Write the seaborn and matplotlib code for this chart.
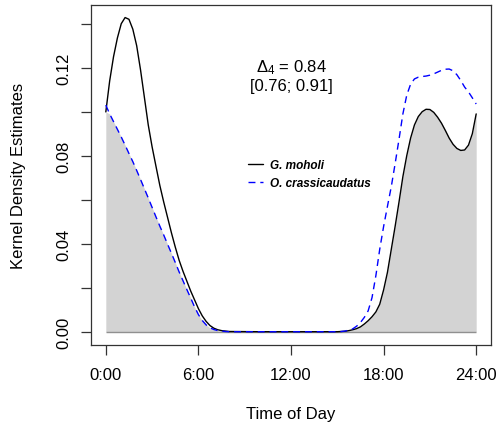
import numpy as np
import pandas as pd
import matplotlib
matplotlib.use("Agg")
import matplotlib.pyplot as plt
import seaborn as sns

# ---- data ----
hours = [0, 0.25, 0.5, 0.75, 1.0, 1.25, 1.5, 1.75, 2.0, 2.25, 2.5, 2.75, 3.0, 3.25, 3.5,
         3.75, 4.0, 4.25, 4.5, 4.75, 5.0, 5.25, 5.5, 5.75, 6.0, 6.25, 6.5, 6.75, 7.0, 7.25,
         7.5, 7.75, 8.0, 10, 12, 14,
         15.0, 15.25, 15.5, 15.75, 16.0, 16.25, 16.5, 16.75, 17.0, 17.25, 17.5, 17.75,
         18.0, 18.25, 18.5, 18.75, 19.0, 19.25, 19.5, 19.75, 20.0, 20.25, 20.5, 20.75,
         21.0, 21.25, 21.5, 21.75, 22.0, 22.25, 22.5, 22.75, 23.0, 23.25, 23.5, 23.75, 24.0]
g_moholi = [0.0999, 0.114, 0.125, 0.1335, 0.1400, 0.1428, 0.1420, 0.1375, 0.1300, 0.1190,
            0.1065, 0.0940, 0.0840, 0.0752, 0.0665, 0.059, 0.052, 0.045, 0.0385, 0.0325,
            0.0275, 0.023, 0.0185, 0.0145, 0.0105, 0.0072, 0.0047, 0.0028, 0.0016, 0.0009,
            0.0005, 0.0003, 0.0001, 0.0, 0.0, 0.0,
            0.0, 0.0001, 0.0002, 0.0005, 0.0009, 0.0014, 0.0022, 0.0035, 0.005, 0.0068,
            0.009, 0.0125, 0.019, 0.027, 0.0375, 0.048, 0.059, 0.0705, 0.0800, 0.088,
            0.094, 0.0978, 0.1, 0.1011, 0.101, 0.0997, 0.0975, 0.0948, 0.0915, 0.088,
            0.0852, 0.0833, 0.0824, 0.0826, 0.0848, 0.09, 0.099]
o_crass = [0.103, 0.099, 0.0955, 0.092, 0.0885, 0.0848, 0.081, 0.0773, 0.0733, 0.0692,
           0.065, 0.0608, 0.0565, 0.0522, 0.048, 0.044, 0.0398, 0.0357, 0.0315, 0.0272,
           0.0232, 0.0192, 0.0153, 0.0113, 0.0078, 0.0051, 0.0031, 0.0018, 0.001, 0.0005,
           0.0003, 0.0001, 0.0, 0.0, 0.0, 0.0,
           0.0, 0.0001, 0.0003, 0.0007, 0.0013, 0.0025, 0.0042, 0.0065, 0.0095, 0.0155,
           0.0255, 0.0375, 0.0478, 0.057, 0.066, 0.0765, 0.0875, 0.099, 0.1075, 0.1125,
           0.1149, 0.1157, 0.116, 0.1162, 0.1166, 0.1172, 0.118, 0.1188, 0.1193, 0.1194,
           0.1186, 0.1168, 0.1142, 0.1112, 0.109, 0.1063, 0.1035]
species = ["G. moholi", "O. crassicaudatus"]
xticks = [0, 6, 12, 18, 24]
xticklabels = ["0:00", "6:00", "12:00", "18:00", "24:00"]
yticks = [0.0, 0.02, 0.04, 0.06, 0.08, 0.10, 0.12, 0.14]
yticklabels = ["0.00", "", "0.04", "", "0.08", "", "0.12", ""]
overlap_text = r"$\Delta_4$ = 0.84"
ci_text = "[0.76; 0.91]"

sns.set_style("ticks")
plt.rcParams["font.family"] = ["Liberation Sans", "DejaVu Sans"]
plt.rcParams["mathtext.fontset"] = "custom"
plt.rcParams["mathtext.rm"] = "Liberation Sans"
plt.rcParams["mathtext.it"] = "Liberation Sans:italic"
plt.rcParams["text.color"] = "black"
plt.rcParams["axes.labelcolor"] = "black"
plt.rcParams["xtick.color"] = "black"
plt.rcParams["ytick.color"] = "black"

df = pd.DataFrame({"hour": hours, species[0]: g_moholi, species[1]: o_crass})

fig = plt.figure(figsize=(4.98, 4.27), dpi=100)
ax = fig.add_axes([91 / 498, 1 - 345.7 / 427, 400 / 498, 339.7 / 427])

low = np.minimum(df[species[0]].to_numpy(), df[species[1]].to_numpy())
ax.fill_between(df["hour"], 0, low, color="#D3D3D3", lw=0, zorder=1)
ax.hlines(0, df["hour"].min(), df["hour"].max(), color="#909090", lw=1.0, zorder=2)

sns.lineplot(data=df, x="hour", y=species[0], ax=ax, color="black", lw=1.0,
             label=species[0], zorder=3)
sns.lineplot(data=df, x="hour", y=species[1], ax=ax, color="#0000FF", lw=1.0,
             label=species[1], zorder=4)
ax.lines[-1].set_dashes((5, 3.5))

ax.set_xlim(-0.96, 24.96)
ax.set_ylim(-0.0059, 0.1485)
ax.set_xticks(xticks)
ax.set_xticklabels(xticklabels, fontsize=12)
ax.set_yticks(yticks)
ax.set_yticklabels(yticklabels, fontsize=12, rotation=90, va="center")
ax.tick_params(axis="both", direction="out", length=7, width=0.9, color="#333333",
               labelcolor="black")
ax.tick_params(axis="x", pad=9)
ax.tick_params(axis="y", pad=7)

for s in ax.spines.values():
    s.set_visible(True)
    s.set_color("#333333")
    s.set_linewidth(0.9)

ax.set_xlabel("Time of Day", fontsize=12, color="black")
ax.set_ylabel("Kernel Density Estimates", fontsize=12, color="black")
ax.xaxis.set_label_coords(0.5, -0.18)
ax.yaxis.set_label_coords(-0.1625, 0.5)

ax.text(12, 0.1203, overlap_text, fontsize=12, ha="center", va="center", color="black")
ax.text(12, 0.1117, ci_text, fontsize=12, ha="center", va="center", color="black")

leg = ax.legend(loc="upper left", bbox_to_anchor=(0.3925, 0.547), frameon=False,
                borderpad=0, borderaxespad=0, handlelength=1.3, handletextpad=0.6,
                labelspacing=0.5, prop={"size": 8.5, "style": "italic", "weight": "bold",
                                        "family": "Liberation Sans"})
for t in leg.get_texts():
    t.set_color("black")

fig.savefig("out.png", dpi=100)
